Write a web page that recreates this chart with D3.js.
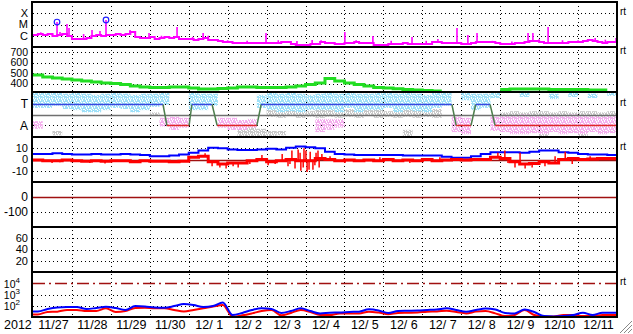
<!DOCTYPE html>
<html><head><meta charset="utf-8">
<script src="https://cdn.jsdelivr.net/npm/d3@7"></script>
<style>
html,body{margin:0;padding:0;background:#fff;}
svg{display:block;}
text{font-family:"Liberation Sans",Arial,sans-serif;fill:#000;}
</style></head><body>
<svg id="c" width="633" height="334"></svg>
<script>
// ---------------- DATA ----------------
const yearLabel = "2012";
const dayLabels = ["11/27","11/28","11/29","11/30","12/ 1","12/ 2","12/ 3","12/ 4","12/ 5","12/ 6","12/ 7","12/ 8","12/ 9","12/10","12/11"];
const nDays = 15;

// Panel 1: X-ray flux, log10(W/m2), 3-hour bins
const xrayLog = [-5.93,-5.84,-5.93,-5.84,-6.02,-5.93,-5.84,-6.02,-6.29,-6.29,
 -6.29,-6.20,-6.02,-5.93,-6.02,-5.93,-5.93,-5.84,-5.93,-5.84,
 -5.67,-6.11,-6.20,-6.20,-6.11,-6.29,-6.20,-6.11,-6.20,-6.11,
 -6.29,-6.29,-6.29,-6.38,-6.29,-6.20,-6.38,-6.38,-6.47,-6.56,
 -6.56,-6.64,-6.64,-6.64,-6.64,-6.64,-6.64,-6.64,-6.64,-6.64,
 -6.64,-6.56,-6.56,-6.73,-6.82,-6.82,-6.82,-6.73,-6.73,-6.56,
 -6.64,-6.64,-6.73,-6.73,-6.64,-6.64,-6.56,-6.64,-6.64,-6.64,
 -6.82,-6.82,-6.82,-6.73,-6.73,-6.73,-6.64,-6.73,-6.73,-6.73,
 -6.73,-6.73,-6.56,-6.56,-6.64,-6.64,-6.64,-6.64,-6.73,-6.73,
 -6.64,-6.56,-6.56,-6.56,-6.56,-6.64,-6.73,-6.73,-6.73,-6.64,
 -6.64,-6.56,-6.47,-6.47,-6.56,-6.64,-6.64,-6.64,-6.64,-6.64,
 -6.56,-6.56,-6.56,-6.47,-6.38,-6.47,-6.56,-6.64,-6.56,-6.56];
// spikes: [day, log10 peak]
const xraySpikes = [[0.2,-5.70],[0.385,-5.76],[0.5,-5.80],[0.617,-4.78],[0.694,-5.67],[0.873,-4.96],[0.925,-5.31],
 [1.3,-5.85],[1.516,-5.49],[1.721,-5.58],[1.875,-4.60],[2.2,-5.80],[2.492,-5.49],[2.6,-5.75],[2.98,-5.76],[3.3,-6.0],[3.70,-5.22],[4.1,-6.1],[4.37,-5.76],[4.5,-6.0],
 [5.0,-6.4],[5.5,-6.45],[5.985,-5.76],[6.3,-6.4],[6.78,-6.47],[7.17,-6.38],[7.4,-6.4],[8.01,-5.67],[8.3,-6.4],[8.73,-6.02],[9.2,-6.45],[9.735,-6.11],[10.1,-6.45],[10.40,-6.29],
 [10.89,-5.31],[11.17,-5.93],[11.405,-5.76],[11.8,-6.45],[12.3,-6.5],[12.715,-5.76],[12.84,-5.76],[13.0,-6.3],[13.23,-5.22],[13.6,-6.4],[14.0,-6.4],[14.44,-6.20],[14.7,-6.35],[14.975,-6.20]];
const flares = [[0.617,-4.78],[1.875,-4.60]];

// Panel 2: solar wind speed (km/s), 6-hour bins
const speed = [481,462,452,443,433,424,414,405,400,390,
 376,367,362,362,367,367,357,348,348,352,
 357,367,367,362,362,362,367,376,390,405,
 448,425,405,390,376,362,357,350,343,338,
 333,329,null,null,null,null,null,null,343,348,
 348,348,348,343,343,343,343,338,338,null];

// Panel 3: IMF sector (T = +1, A = -1)
const sectorFrom = [0,3.44,4.08,4.73,5.86,10.87,11.37,11.87];
const sectorTo   = [3.34,4.01,4.60,5.75,10.76,11.25,11.74,15];
const sectorPol  = [1,-1,1,-1,1,-1,1,-1];
// observed direction scatter envelopes per 6-hour bin
const towardLo = [0.6,0.6,0.8,0.5,0.4,0.2,0.2,0.4,0.6,0.5,0.2,0.4,0.7,0.9,null,null,0.4,0.4,0.8,null,null,null,null,0.6,0.4,0.2,0.3,0.2,0.4,0.4,0.4,0.2,0.6,0.2,0.4,0.4,0.6,0.2,0.4,0.3,0.2,0.6,0.8,null,1.3,0.4,0.6,1.5,null,null,1.6,null,null,1.4,null,1.6,null,1.5,null,1.7];
const towardHi = [2.0,2.0,2.0,1.9,2.0,1.9,1.8,1.9,2.0,1.9,1.8,1.9,1.9,2.0,null,null,2.0,1.9,1.9,null,null,null,null,1.8,2.0,1.9,2.0,1.9,1.8,1.9,2.0,1.9,2.0,1.9,1.9,2.0,2.0,1.9,2.0,1.9,1.8,2.0,2.0,null,2.0,1.9,1.9,2.0,null,null,2.0,null,null,1.9,null,2.0,null,1.9,null,2.0];
const awayLo = [-1.3,null,null,null,null,null,null,null,null,null,
 null,null,null,-1.1,-1.4,-1.2,null,null,null,-1.2,
 -1.4,-1.4,-1.2,null,null,null,null,null,null,-1.6,
 -1.4,-1.2,null,null,null,null,null,null,null,null,
 null,null,null,-1.6,-1.8,null,null,-1.5,-1.6,-1.8,
 -1.8,-1.7,-1.8,-1.6,-1.8,-1.7,-1.8,-1.6,-1.8,-1.7];
const awayHi = [-0.6,null,null,null,null,null,null,null,null,null,
 null,null,null,-0.3,-0.2,-0.3,null,null,null,-0.3,
 -0.3,-0.5,-0.4,null,null,null,null,null,null,-0.4,
 -0.4,-0.4,null,null,null,null,null,null,null,null,
 null,null,null,-0.2,-0.3,null,null,-0.2,-0.1,-0.1,
 0.0,-0.1,-0.1,-0.1,-0.1,0.0,-0.1,-0.1,-0.2,-0.1];
const neutralBins = [[2,-1.9,-1.5],[13,1.5,2.0],[12,-0.1,0.2],[21,-2.0,-1.2],[22,-2.0,-1.0],[23,-2.0,-1.3],[24,-2.0,-1.5],[25,-1.9,-1.5],[38,-2.0,-1.4],
 [24,-0.2,0.4],[25,-0.3,0.3],[26,-0.1,0.5],[27,-0.3,0.4],[28,-0.2,0.3],[29,-0.3,0.5],[30,-0.2,0.4],[31,-0.3,0.3],[32,-0.2,0.5],[33,-0.3,0.4],
 [34,-0.1,0.4],[35,-0.3,0.5],[36,-0.2,0.3],[37,-0.3,0.4],[38,-0.2,0.5],[39,-0.3,0.4],[40,-0.2,0.3],[41,-0.3,0.5],
 [48,-0.5,0.2],[49,-0.6,0.3],[50,-0.4,0.2],[51,-0.6,0.3],[52,-0.5,0.3],[53,-0.4,0.2],[54,-0.6,0.3],[55,-0.5,0.2],[56,-0.6,0.3],[57,-0.5,0.3],[58,-0.4,0.2],[59,-0.6,0.3],
 [52,-2.0,-1.6],[56,-2.0,-1.5]];

// Panel 4: IMF Bt and Bz (nT), 6-hour bins
const bt = [5,5,5.5,5,4.5,4.5,5,4.5,4.5,5,4.5,4,3,
 3,3.5,4.5,6,8,10.5,10,9,8.5,8.5,9,9.5,9,10.5,11.5,11,10,
 7,5,4.5,4,4,4,4,4,3.5,3.5,3.5,3.5,2.5,1.5,1.5,3,
 5,6.5,6.5,6.5,6,7,8,8,6.5,6,5,4.5,4.5,4];
const bz = [-0.5,-1,-1,-0.5,-1,-1.5,-1,-1.5,-1,-1,-2,-1,-1.5,
 -1.5,-2,-1.5,2,3,-2,-4,-3,-3,-1,0,-2,-1,0,-1,-1,1,0,-1,
 -0.5,-1,-0.5,-1,0,-1,-0.5,-1,0,-1,-0.5,0,-0.5,0,
 0,2,1,-2,-4,-3.5,-2,-3,0,1,0,0.5,1,1];
const bzSpikes = [[0.49,-3],[0.69,-2.5],[1.46,-3],[1.85,-3.5],[2.23,-2],[2.75,-3],[3.78,-2.5],[4.42,5.5],[4.60,-6],[4.80,-7],[4.96,-8],[5.14,-6],[5.27,-7],[5.57,-4],
 [5.88,4],[6.04,-5],[6.22,-4],[6.40,5],[6.55,-6],[6.60,-4],[6.65,8],[6.73,-8],[6.81,9],[6.86,6],[6.88,-10],[6.94,-7],[6.96,10],[7.01,8],[7.04,-11],[7.09,-9],[7.12,7],[7.19,-9],[7.24,-5],[7.27,6],[7.32,8],[7.35,-7],[7.42,5],
 [7.63,3],[8.01,-3],[8.91,2],[9.68,-3],[10.45,2],[11.94,6],[12.12,8],[12.20,-3],[12.38,-7],[12.51,6],[12.64,-8],[12.82,-7],[13.15,-6],[13.41,3],[13.67,7],[13.85,-4],[14.31,3]];

// Panel 7: particle flux (log scale), 6-hour bins
const fluxBlue = [31,51,70,77,77,51,63,82,63,42,93,85,70,67,93,143,116,77,93,195,
 15,23,42,59,51,23,34,59,34,21,24,25,28,30,48,38,23,34,36,38,
 42,46,59,42,30,42,57,46,23,21,46,28,12,11,12,15,24,15,24,24];
const fluxRed = [17,28,30,42,42,34,34,59,28,34,63,67,59,59,42,31,42,59,85,116,
 11,14,21,34,42,14,23,42,28,15,15,21,21,21,30,25,18,23,24,25,
 30,31,36,28,21,30,34,21,12,15,42,15,11,11,15,15,12,12,15,15];

// ---------------- DRAW ----------------
const svg = d3.select("#c");
const x = d3.scaleLinear().domain([0, nDays]).range([33, 617]);
const panelTops = [2,47,92,137,182,227,272,317];
const y1 = d3.scaleLinear().domain([-7,-3]).range([47,2]);
const y2 = d3.scaleLinear().domain([319,748]).range([92,47]);
const y3 = d3.scaleLinear().domain([-2.05,2.05]).range([137,92]);
const y4 = d3.scaleLinear().domain([-20,20]).range([182,137]);
const y5 = d3.scaleLinear().domain([-200,100]).range([227,182]);
const y6 = d3.scaleLinear().domain([0,80]).range([272,227]);
const y7 = d3.scaleLog().domain([10,1e5]).range([317,272]);

const defs = svg.append("defs");
panelTops.slice(0,7).forEach((t,i)=>{
  defs.append("clipPath").attr("id","clip"+i).append("rect")
    .attr("x",33).attr("y",t).attr("width",584).attr("height",45);
});
// speckle textures (style only)
function speckle(id, color){
  const p = defs.append("pattern").attr("id",id).attr("patternUnits","userSpaceOnUse")
    .attr("width",6).attr("height",7);
  [[0,0,1,4],[1,2,1,3],[2,0,1,2],[2,4,1,3],[3,1,1,3],[4,0,1,1],[4,3,1,4],[5,1,1,3],[0,5,1,2],[1,6,1,1],[3,5,1,1],[5,5,1,2]].forEach(([a,b,w,h])=>{
    p.append("rect").attr("x",a).attr("y",b).attr("width",w).attr("height",h).attr("fill",color);
  });
}
speckle("spB","#9ee0f8");
speckle("spP","#f4b0ee");
speckle("spG","#c8c8c8");
const rp = v => Math.round(v)+0.5;

// grid: vertical dotted
const grid = svg.append("g");
d3.range(1, nDays).forEach(d=>{
  grid.append("line").attr("x1",rp(x(d))).attr("x2",rp(x(d))).attr("y1",2).attr("y2",317)
    .attr("stroke","#000").attr("stroke-width",1).attr("stroke-dasharray","1,3");
});
function hdot(y){
  grid.append("line").attr("x1",33).attr("x2",617).attr("y1",rp(y)).attr("y2",rp(y))
    .attr("stroke","#000").attr("stroke-width",1).attr("stroke-dasharray","1,3");
}
[-4,-5,-6].forEach(v=>hdot(y1(v)));
[700,600,500,400].forEach(v=>hdot(y2(v)));
[1,-1].forEach(v=>hdot(y3(v)));
[10,-10].forEach(v=>hdot(y4(v)));
[-100].forEach(v=>hdot(y5(v)));
[60,40,20].forEach(v=>hdot(y6(v)));
[1e3,1e2].forEach(v=>hdot(y7(v)));

// zero lines
[y4(0), y5(0)].forEach(yy=>{
  svg.append("line").attr("x1",33).attr("x2",617).attr("y1",rp(yy)).attr("y2",rp(yy))
    .attr("stroke","#a01010").attr("stroke-width",1.3);
});
svg.append("line").attr("x1",33).attr("x2",617).attr("y1",rp(y7(1e4))).attr("y2",rp(y7(1e4)))
  .attr("stroke","#a01010").attr("stroke-width",1.3).attr("stroke-dasharray","12,4,2,4");

// ---- Panel 1: X-ray
const g1 = svg.append("g").attr("clip-path","url(#clip0)");
const xrPts = xrayLog.map((v,i)=>[i/8,v]); xrPts.push([nDays, xrayLog[xrayLog.length-1]]);
g1.append("path").attr("d", d3.line().x(d=>x(d[0])).y(d=>y1(d[1])).curve(d3.curveStepAfter)(xrPts))
  .attr("fill","none").attr("stroke","#ff00ff").attr("stroke-width",2);
xraySpikes.forEach(([t,v])=>{
  const b = xrayLog[Math.min(xrayLog.length-1, Math.floor(t*8))];
  g1.append("line").attr("x1",x(t)).attr("x2",x(t)).attr("y1",y1(b)).attr("y2",y1(v))
    .attr("stroke","#ff00ff").attr("stroke-width",1.6);
});
flares.forEach(([t,v])=>{
  g1.append("circle").attr("cx",x(t)).attr("cy",y1(v)).attr("r",2.8)
    .attr("fill","none").attr("stroke","#2020ff").attr("stroke-width",1.2);
});

// ---- Panel 2: speed
const g2 = svg.append("g").attr("clip-path","url(#clip1)");
const spLine = d3.line().defined(d=>d[1]!=null).x(d=>x(d[0])).y(d=>y2(d[1])).curve(d3.curveStepAfter);
const spSeg = [];
speed.forEach((v,i)=>{ if(v!=null){ spSeg.push([i/4,v]); if(speed[i+1]==null) spSeg.push([(i+1)/4,v]); } else spSeg.push([i/4,null]); });
g2.append("path").attr("d", spLine(spSeg)).attr("fill","none").attr("stroke","#22dd22").attr("stroke-width",3);

// ---- Panel 3: sector
const g3 = svg.append("g").attr("clip-path","url(#clip2)");
function band(j, l, h, fill){
  g3.append("rect").attr("x",x(j/4)).attr("width",x((j+1)/4)-x(j/4))
    .attr("y",y3(h)).attr("height",y3(l)-y3(h)).attr("fill",fill);
}
neutralBins.forEach(([j,l,h])=>band(j,l,h,"url(#spG)"));
towardLo.forEach((l,i)=>{ if(l!=null && towardHi[i]!=null) band(i,l,towardHi[i],"url(#spB)"); });
awayLo.forEach((l,i)=>{ if(l!=null && awayHi[i]!=null) band(i,l,awayHi[i],"url(#spP)"); });
g3.append("line").attr("x1",33).attr("x2",617).attr("y1",rp(y3(0))).attr("y2",rp(y3(0)))
  .attr("stroke","#707070").attr("stroke-width",1.5);
sectorPol.forEach((p,i)=>{
  g3.append("line").attr("x1",x(sectorFrom[i])).attr("x2",x(sectorTo[i]))
    .attr("y1",rp(y3(p))).attr("y2",rp(y3(p)))
    .attr("stroke", p>0 ? "#3848e0" : "#e02828").attr("stroke-width",1.5);
  if(i < sectorPol.length-1){
    g3.append("line").attr("x1",x(sectorTo[i])).attr("x2",x(sectorFrom[i+1]))
      .attr("y1",rp(y3(p))).attr("y2",rp(y3(sectorPol[i+1])))
      .attr("stroke","#4e7e4e").attr("stroke-width",1.5);
  }
});

// ---- Panel 4: Bt, Bz
const g4 = svg.append("g").attr("clip-path","url(#clip3)");
const stepLine = (ys)=>d3.line().x(d=>x(d[0])).y(d=>ys(d[1])).curve(d3.curveStepAfter);
const btPts = bt.map((v,i)=>[i/4,v]); btPts.push([nDays,bt[bt.length-1]]);
const bzPts = bz.map((v,i)=>[i/4,v]); bzPts.push([nDays,bz[bz.length-1]]);
g4.append("path").attr("d", stepLine(y4)(btPts)).attr("fill","none").attr("stroke","#0000ff").attr("stroke-width",2);
g4.append("path").attr("d", stepLine(y4)(bzPts)).attr("fill","none").attr("stroke","#ff0000").attr("stroke-width",3);
bzSpikes.forEach(([t,v])=>{
  const b = bz[Math.min(bz.length-1, Math.floor(t*4))];
  g4.append("line").attr("x1",x(t)).attr("x2",x(t)).attr("y1",y4(b)).attr("y2",y4(v))
    .attr("stroke","#ff0000").attr("stroke-width",1.5);
});

// ---- Panel 7: particle flux
const g7 = svg.append("g").attr("clip-path","url(#clip6)");
const fLine = d3.line().x(d=>x(d[0])).y(d=>y7(Math.max(10.5,d[1]))).curve(d3.curveMonotoneX);
const fr = fluxRed.map((v,i)=>[(i+0.5)/4,v]); fr.unshift([0,fluxRed[0]]); fr.push([nDays,fluxRed[fluxRed.length-1]]);
const fb = fluxBlue.map((v,i)=>[(i+0.5)/4,v]); fb.unshift([0,fluxBlue[0]]); fb.push([nDays,fluxBlue[fluxBlue.length-1]]);
g7.append("path").attr("d", fLine(fr)).attr("fill","none").attr("stroke","#ff0000").attr("stroke-width",2);
g7.append("path").attr("d", fLine(fb)).attr("fill","none").attr("stroke","#0000ff").attr("stroke-width",2);

// ---- frames
panelTops.forEach(t=>{
  svg.append("line").attr("x1",32).attr("x2",618).attr("y1",t).attr("y2",t).attr("stroke","#000").attr("stroke-width",2);
});
svg.append("line").attr("x1",32).attr("x2",32).attr("y1",1).attr("y2",318).attr("stroke","#000").attr("stroke-width",2);
svg.append("line").attr("x1",617).attr("x2",617).attr("y1",1).attr("y2",318).attr("stroke","#000").attr("stroke-width",2);

// ---- labels
const lab = svg.append("g").attr("text-anchor","end");
function ylab(txt, y, fs){ lab.append("text").attr("x",28).attr("y",y).attr("dy","0.36em").attr("font-size",fs).text(txt); }
[["X",-4],["M",-5],["C",-6]].forEach(([t,v])=>ylab(t,y1(v),11));
[700,600,500,400].forEach(v=>ylab(String(v),y2(v),10.5));
[["T",1],["A",-1]].forEach(([t,v])=>ylab(t,y3(v),12));
[10,0,-10].forEach(v=>ylab(String(v),y4(v),11));
[0,-100].forEach(v=>ylab(String(v),y5(v),12));
[60,40,20].forEach(v=>ylab(String(v),y6(v),11));
[4,3,2].forEach(e=>{
  const yy = y7(Math.pow(10,e));
  const t = lab.append("text").attr("x",20).attr("y",yy+4.5).attr("font-size",10.5);
  t.append("tspan").text("10");
  t.append("tspan").attr("dy",-5).attr("font-size",8).text(String(e));
});
[y1(-4), y2(700), y3(1), y4(10), y7(1e4)].forEach(yy=>{
  svg.append("text").attr("x",620).attr("y",yy+2).attr("font-size",10).text("rt");
});
const xl = svg.append("g").attr("font-size",12.5);
xl.append("text").attr("x",4).attr("y",329).text(yearLabel);
dayLabels.forEach((d,i)=>{
  xl.append("text").attr("x",x(i+0.5)+1).attr("y",329).attr("text-anchor","middle")
    .style("white-space","pre").text(d);
});
[[620,333,632,321],[624,333,632,325],[628,333,632,329]].forEach(([a,b,c,d])=>{
  svg.append("line").attr("x1",a).attr("y1",b).attr("x2",c).attr("y2",d).attr("stroke","#888").attr("stroke-width",1);
});
</script>
</body></html>
